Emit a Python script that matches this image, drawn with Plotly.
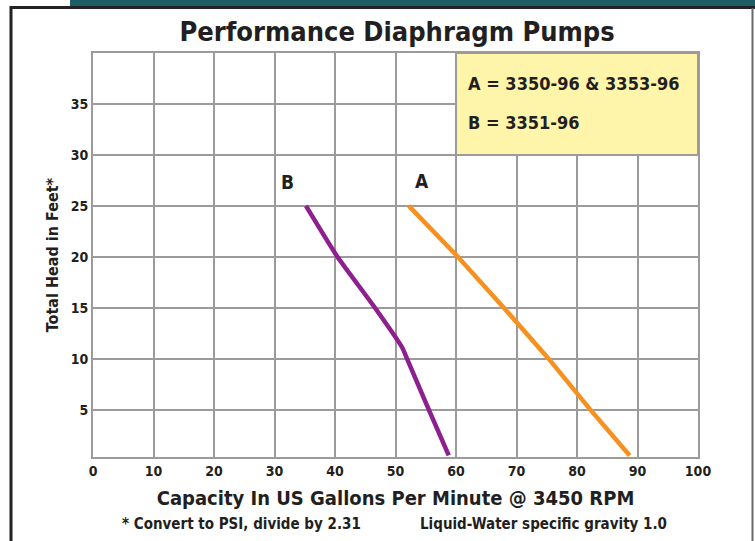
import plotly.graph_objects as go

# ---- data ----
a_flow = [52.2, 60.3, 67.9, 75.3, 82.2, 88.7]
a_head = [25, 20, 15, 10, 5, 0.5]
b_flow = [35.2, 40.4, 46.6, 51.1, 51.9, 55.5, 58.8]
b_head = [25, 20, 15, 11.1, 10, 5, 0.5]
x_ticks = [0, 10, 20, 30, 40, 50, 60, 70, 80, 90, 100]
y_ticks = [5, 10, 15, 20, 25, 30, 35]
legend_lines = ["A = 3350-96 & 3353-96", "B = 3351-96"]

FONT = "DejaVu Sans Condensed, Liberation Sans Narrow, Arial Narrow, sans-serif"
GRID = "#9b9b9b"
TXT = "#231f20"

fig = go.Figure()
fig.add_trace(go.Scatter(x=a_flow, y=a_head, mode="lines", line=dict(color="#f7901e", width=4.5),
                         showlegend=False, hoverinfo="skip"))
fig.add_trace(go.Scatter(x=b_flow, y=b_head, mode="lines", line=dict(color="#8e1f8f", width=4.5, shape="spline", smoothing=0.5),
                         showlegend=False, hoverinfo="skip"))

# legend box (yellow) in data coords
fig.add_shape(type="rect", xref="x", yref="y", x0=60, x1=100, y0=30, y1=40,
              fillcolor="#fff5aa", line=dict(color=GRID, width=2), layer="between")
fig.add_annotation(x=61.7, y=37, xref="x", yref="y", text="<b>" + legend_lines[0] + "</b>", showarrow=False,
                   xanchor="left", yanchor="middle", font=dict(family=FONT, size=18, color=TXT))
fig.add_annotation(x=61.7, y=33.2, xref="x", yref="y", text="<b>" + legend_lines[1] + "</b>", showarrow=False,
                   xanchor="left", yanchor="middle", font=dict(family=FONT, size=18, color=TXT))
# curve labels
fig.add_annotation(x=32.2, y=27.3, xref="x", yref="y", text="<b>B</b>", showarrow=False,
                   font=dict(family=FONT, size=19, color=TXT))
fig.add_annotation(x=54.4, y=27.4, xref="x", yref="y", text="<b>A</b>", showarrow=False,
                   font=dict(family=FONT, size=19, color=TXT))

def px_x(p):
    return (p - 93) / 605
def px_y(p):
    return (457 - p) / 404

# footnotes
fig.add_annotation(x=px_x(120), y=px_y(524), xref="paper", yref="paper",
                   text="<b>* Convert to PSI, divide by 2.31</b>", showarrow=False,
                   xanchor="left", yanchor="middle", font=dict(family=FONT, size=15, color=TXT))
fig.add_annotation(x=px_x(418), y=px_y(524), xref="paper", yref="paper",
                   text="<b>Liquid-Water specific gravity 1.0</b>", showarrow=False,
                   xanchor="left", yanchor="middle", font=dict(family=FONT, size=15, color=TXT))

# page frame: teal header bar and borders
fig.add_shape(type="rect", xref="paper", yref="paper", x0=px_x(70), x1=px_x(760), y0=px_y(7), y1=px_y(-2),
              fillcolor="#1f5d66", line=dict(width=0), layer="above")
fig.add_shape(type="line", xref="paper", yref="paper", x0=px_x(10), x1=px_x(760), y0=px_y(7.5), y1=px_y(7.5),
              line=dict(color="#222222", width=3), layer="above")
fig.add_shape(type="line", xref="paper", yref="paper", x0=px_x(11), x1=px_x(11), y0=px_y(6), y1=px_y(545),
              line=dict(color="#222222", width=3), layer="above")
fig.add_shape(type="line", xref="paper", yref="paper", x0=px_x(752.5), x1=px_x(752.5), y0=px_y(8), y1=px_y(545),
              line=dict(color="#6a6a6a", width=2), layer="above")

fig.update_layout(
    width=755, height=541,
    margin=dict(l=93, r=57, t=53, b=84),
    paper_bgcolor="white", plot_bgcolor="white",
    title=dict(text="<b>Performance Diaphragm Pumps</b>", x=0.526, xanchor="center", y=1 - 32 / 541,
               yanchor="middle", font=dict(family=FONT, size=27, color=TXT)),
    font=dict(family=FONT, color=TXT),
)
fig.update_xaxes(range=[0, 100], tickvals=x_ticks, ticktext=["<b>%d</b>" % v for v in x_ticks],
                 showgrid=True, gridcolor=GRID, gridwidth=2, zeroline=False,
                 showline=True, linecolor=GRID, linewidth=2, mirror=True, ticks="",
                 tickfont=dict(family=FONT, size=14, color=TXT),
                 title=dict(text="<b>Capacity In US Gallons Per Minute @ 3450 RPM</b>",
                            font=dict(family=FONT, size=20, color=TXT), standoff=13))
fig.update_yaxes(range=[0.35, 40], tickvals=y_ticks, ticktext=["<b>%d</b>" % v for v in y_ticks],
                 showgrid=True, gridcolor=GRID, gridwidth=2, zeroline=False,
                 showline=True, linecolor=GRID, linewidth=2, mirror=True, ticks="",
                 tickfont=dict(family=FONT, size=14, color=TXT),
                 title=dict(text="<b>Total Head in Feet*</b>", font=dict(family=FONT, size=16, color=TXT), standoff=8))

fig.write_html("out.html", config={"displayModeBar": False},
               post_script="document.body.style.margin='0';document.body.style.overflow='hidden';")
